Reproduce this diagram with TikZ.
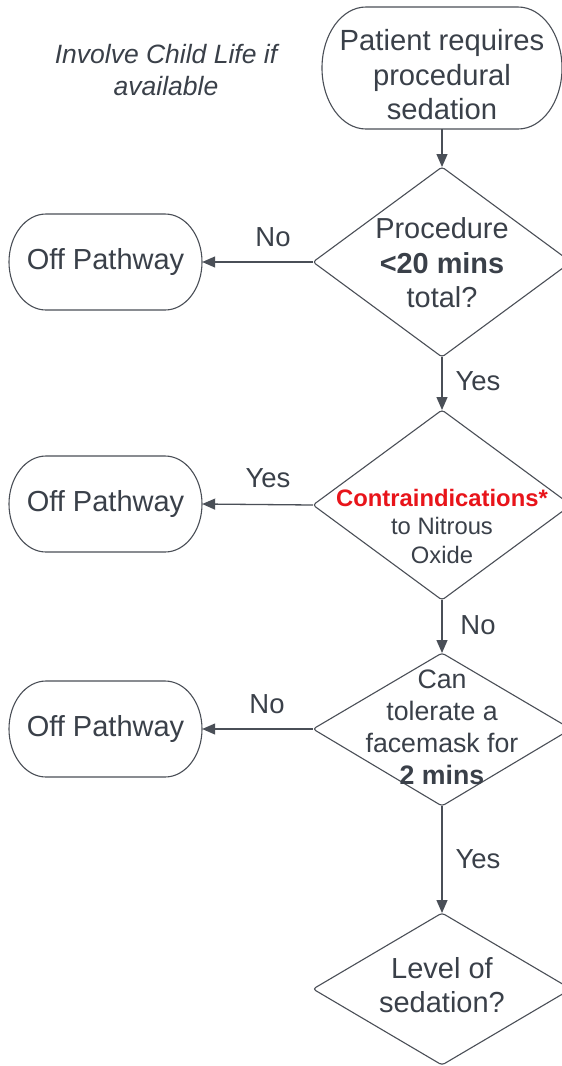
\documentclass[tikz,border=0pt]{standalone}
\usepackage{fontspec}
\setmainfont{Liberation Sans}
\usetikzlibrary{arrows.meta}
\definecolor{ink}{HTML}{3A4049}
\definecolor{edge}{HTML}{4A4F57}
\definecolor{alert}{HTML}{E8141A}
\tikzset{
  lbl/.style={text=ink, font=\fontsize{27.5}{32}\selectfont, inner sep=0},
  txt/.style={text=ink, align=center, inner sep=0},
  outline/.style={draw=edge, line width=1.1pt},
  conn/.style={draw=edge, line width=1.3pt, -{Triangle[length=13pt,width=11pt]}}
}
\begin{document}
\begin{tikzpicture}[x=1pt,y=-1pt]
\clip (0,0) rectangle (562,1066);
\fill[white] (0,0) rectangle (562,1066);

% start terminal (elliptical ends)
\draw[outline] (366,7) -- (518,7) arc[start angle=90, end angle=-90, x radius=44pt, y radius=61pt]
  -- (366,129) arc[start angle=270, end angle=90, x radius=44pt, y radius=61pt] -- cycle;
\node[inner sep=0, minimum width=240pt, minimum height=122pt] (start) at (442,68) {};
\node[txt, font=\fontsize{29.2}{34.5}\selectfont] (starttxt) at (442,75) {Patient requires\\procedural\\sedation};

% note
\node[txt, font=\itshape\fontsize{26.5}{32}\selectfont] (note) at (166,70) {Involve Child Life if\\available};

% diamonds
\coordinate (d1n) at (442,167); \coordinate (d1w) at (313,262); \coordinate (d1s) at (442,357);
\draw[outline, rounded corners=3pt] (442,167) -- (571,262) -- (442,357) -- (313,262) -- cycle;
\node[txt, font=\fontsize{28.9}{34.5}\selectfont] (d1txt) at (442,263) {Procedure\\\textbf{<20 mins}\\total?};

\coordinate (d2n) at (442,410); \coordinate (d2w) at (313,505); \coordinate (d2s) at (442,600);
\draw[outline, rounded corners=3pt] (442,410) -- (571,505) -- (442,600) -- (313,505) -- cycle;
\node[txt, font=\fontsize{23.8}{28.5}\selectfont] (d2txt) at (442,526) {\textcolor{alert}{\textbf{Contraindications*}}\\to Nitrous\\Oxide};

\coordinate (d3n) at (442,653); \coordinate (d3w) at (313,729); \coordinate (d3s) at (442,806);
\draw[outline, rounded corners=3pt] (442,653) -- (571,729) -- (442,806) -- (313,729) -- cycle;
\node[txt, font=\fontsize{26.7}{32}\selectfont] (d3txt) at (442,727) {Can\\tolerate a\\facemask for\\\textbf{2 mins}};

\coordinate (d4n) at (442,913);
\draw[outline, rounded corners=3pt] (442,913) -- (571,989) -- (442,1065) -- (313,989) -- cycle;
\node[txt, font=\fontsize{29}{34.5}\selectfont] (d4txt) at (442,985) {Level of\\sedation?};

% off pathway terminals
\foreach \cy/\nm in {262/off1, 504/off2, 729/off3}{
  \draw[outline] (46,\cy-48) -- (165,\cy-48) arc[start angle=90, end angle=-90, x radius=37pt, y radius=48pt]
    -- (46,\cy+48) arc[start angle=270, end angle=90, x radius=37pt, y radius=48pt] -- cycle;
  \node[inner sep=0, minimum width=193pt, minimum height=96pt, font=\fontsize{29}{34}\selectfont, text=ink] (\nm) at (105.5,\cy) {Off Pathway};
}

% connectors
\draw[conn] (start.south) -- (d1n);
\draw[conn] (d1s) -- (d2n);
\draw[conn] (d2s) -- (d3n);
\draw[conn] (d3s) -- (d4n);
\draw[conn] (d1w) -- (off1.east);
\draw[conn] (d2w) -- (off2.east);
\draw[conn] (d3w) -- (off3.east);

% labels
\node[lbl] (l1) at (273,237) {No};
\node[lbl] (l2) at (478,381) {Yes};
\node[lbl] (l3) at (268,478) {Yes};
\node[lbl] (l4) at (478,625) {No};
\node[lbl] (l5) at (267,704) {No};
\node[lbl] (l6) at (478,859) {Yes};
\end{tikzpicture}
\end{document}
